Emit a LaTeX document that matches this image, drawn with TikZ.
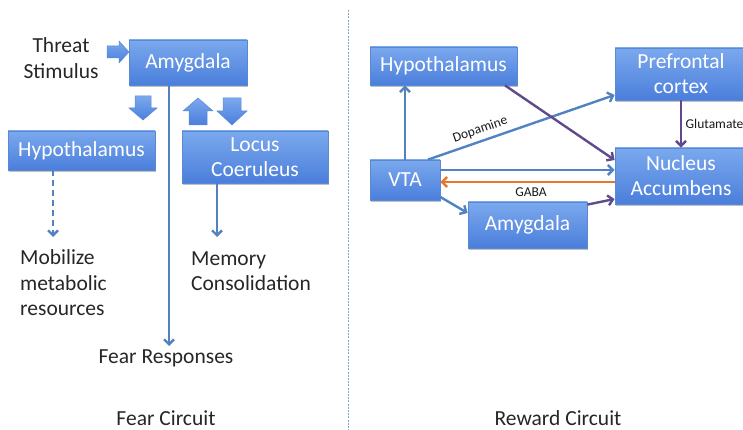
\documentclass[tikz,border=0pt]{standalone}
\usepackage{fontspec}
\setmainfont{Carlito}
\usetikzlibrary{arrows.meta,shadows}

\definecolor{boxtop}{HTML}{7BA9EE}
\definecolor{boxbot}{HTML}{4A7EDB}
\definecolor{boxline}{HTML}{5A89D4}
\definecolor{linkblue}{HTML}{5283C0}
\definecolor{linkpurple}{HTML}{5F4A8C}
\definecolor{linkorange}{HTML}{E8772E}
\definecolor{divider}{HTML}{8FA6C6}

\tikzset{
  region/.style={draw=boxline, line width=0.8pt, top color=boxtop, bottom color=boxbot,
    text=white, font=\fontsize{21.5}{25}\selectfont, align=center, inner sep=2pt,
    drop shadow={shadow xshift=0.6pt, shadow yshift=-2pt, opacity=0.25, fill=black}},
  caption/.style={font=\fontsize{21.5}{25.5}\selectfont, text=black!85, inner sep=0pt},
  tag/.style={font=\fontsize{13.5}{16}\selectfont, text=black!90, inner sep=1.5pt},
  link/.style={line width=2.4pt, -{Straight Barb[length=5pt,width=10pt]}},
  blockarrow/.style={top color=boxtop, bottom color=boxbot, draw=boxline, line width=0.5pt}
}

\begin{document}
\begin{tikzpicture}[x=1pt, y=-1pt]
  \useasboundingbox (0,0) rectangle (743,430);

  % divider between the two circuits
  \draw[divider, line width=1pt, dash pattern=on 2pt off 1.2pt] (348,10) -- (348,430);

  % ---------------- Fear circuit ----------------
  \node[region, minimum width=118pt, minimum height=45pt] (amyL) at (188,62.5) {Amygdala};
  \node[region, minimum width=147pt, minimum height=39pt] (hypL) at (81.5,150.5) {Hypothalamus};
  \node[region, minimum width=146pt, minimum height=52pt] (locus) at (255,157) {Locus\\Coeruleus};

  \node[caption, align=center] (threat) at (61,58) {Threat\\Stimulus};
  \node[caption, align=left, anchor=west] (mob) at (20,283) {Mobilize\\metabolic\\resources};
  \node[caption, align=left, anchor=west] (mem) at (191,271) {Memory\\Consolidation};
  \node[caption] (fr) at (166,358) {Fear Responses};
  \node[caption] at (166,418) {Fear Circuit};

  % block arrows
  \path[blockarrow] (107,46) -- (119,46) -- (119,41) -- (129,52) -- (119,63) -- (119,58) -- (107,58) -- cycle;
  \path[blockarrow] (135,96) -- (151,96) -- (151,108) -- (157,108) -- (143,120) -- (129,108) -- (135,108) -- cycle;
  \path[blockarrow] (198,98) -- (213,111) -- (207,111) -- (207,125) -- (189,125) -- (189,111) -- (183,111) -- cycle;
  \path[blockarrow] (223,98) -- (241,98) -- (241,111) -- (247,111) -- (232,125) -- (217,111) -- (223,111) -- cycle;

  % connectors
  \coordinate (mobtip) at (53,237);
  \coordinate (memtip) at (217,237);
  \coordinate (frtip) at (169,346);
  \draw[link, linkblue] (amyL.south -| frtip) -- (frtip);
  \draw[link, linkblue, dash pattern=on 6pt off 4pt] (hypL.south -| mobtip) -- (mobtip);
  \draw[link, linkblue] (locus.south -| memtip) -- (memtip);

  % ---------------- Reward circuit ----------------
  \node[region, minimum width=147pt, minimum height=38pt] (hypR) at (443.5,66) {Hypothalamus};
  \node[region, minimum width=132pt, minimum height=52pt] (pfc) at (681,74) {Prefrontal\\cortex};
  \node[region, minimum width=132pt, minimum height=56pt] (nac) at (681,176) {Nucleus\\Accumbens};
  \node[region, minimum width=70pt, minimum height=40pt] (vta) at (405,180) {VTA};
  \node[region, minimum width=119pt, minimum height=46pt] (amyR) at (527.5,225) {Amygdala};

  \node[caption] at (558,418) {Reward Circuit};

  \draw[link, linkblue] (vta.north) -- (vta.north |- hypR.south);
  \draw[link, linkblue] ([xshift=23pt]vta.north) -- node[tag, sloped, above=3pt, pos=0.3] {Dopamine} ([yshift=-21pt]pfc.west);
  \draw[link, linkpurple] ([xshift=61.5pt]hypR.south) -- ([yshift=16pt]nac.west);
  \draw[link, linkpurple] (pfc.south) -- node[tag, anchor=west, xshift=2pt] {Glutamate} (nac.north);
  \draw[link, linkblue] ([yshift=10pt]vta.east) -- ([yshift=10pt]vta.east -| nac.west);
  \draw[link, linkorange] ([yshift=-6pt]nac.west) -- node[tag, below=3pt, pos=0.48] {GABA} ([yshift=-6pt]nac.west -| vta.east);
  \draw[link, linkblue] ([yshift=-17pt]vta.east) -- ([yshift=12pt]amyR.west);
  \draw[link, linkpurple] ([yshift=-3pt]amyR.north east) -- ([yshift=-23pt]nac.west);
\end{tikzpicture}
\end{document}
